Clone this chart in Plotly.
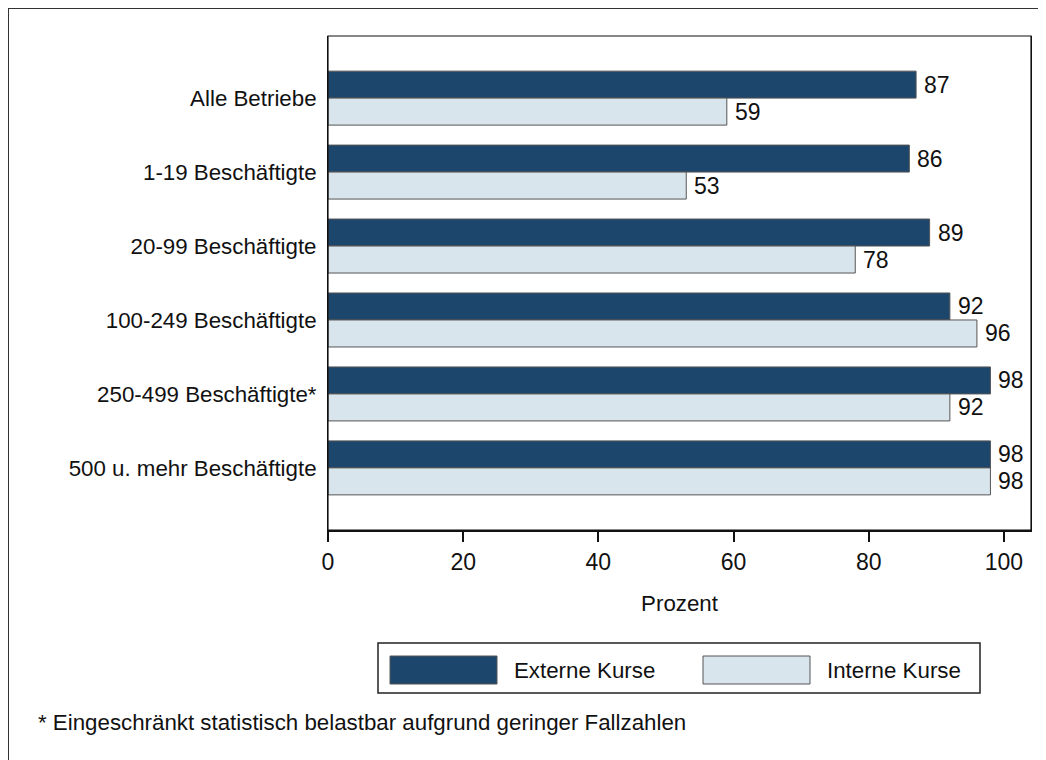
import plotly.graph_objects as go

categories = ["Alle Betriebe", "1-19 Beschäftigte", "20-99 Beschäftigte",
              "100-249 Beschäftigte", "250-499 Beschäftigte*", "500 u. mehr Beschäftigte"]
externe = [87, 86, 89, 92, 98, 98]
interne = [59, 53, 78, 96, 92, 98]
series_names = ["Externe Kurse", "Interne Kurse"]
x_ticks = [0, 20, 40, 60, 80, 100]
x_title = "Prozent"
footnote = "* Eingeschränkt statistisch belastbar aufgrund geringer Fallzahlen"

DARK = "#1d466d"
LIGHT = "#d9e5ec"
EDGE = "#555555"
FONT = "Liberation Sans, Arial, sans-serif"
FS = 22.3
FS_NUM = 23

W, H = 1046, 760
OFF = 8  # page body margin
L, R, T, B = 328 - OFF, 1031 - OFF, 36 - OFF, 530 - OFF

def px(xp):
    return (xp - OFF - L) / (R - L)

def py(yp):
    return (B - (yp - OFF)) / (B - T)

fig = go.Figure()
for name, vals, col in [(series_names[0], externe, DARK), (series_names[1], interne, LIGHT)]:
    fig.add_trace(go.Bar(
        y=categories, x=vals, orientation="h", name=name,
        marker=dict(color=col, line=dict(color=EDGE, width=1)),
        showlegend=False,
    ))

annotations = []
for vals, ysh in [(externe, 13.5), (interne, -13.5)]:
    for c, v in zip(categories, vals):
        annotations.append(dict(x=v, y=c, xref="x", yref="y", text=str(v), showarrow=False,
                                xanchor="left", yanchor="middle", xshift=6, yshift=ysh,
                                font=dict(size=FS_NUM, color="#111111", family=FONT)))

shapes = []
# outer frame (only top/left visible)
shapes.append(dict(type="rect", xref="paper", yref="paper",
                   x0=px(8), x1=px(1100), y0=py(820), y1=py(8),
                   line=dict(color="#333333", width=2), fillcolor="rgba(0,0,0,0)", layer="below"))
# legend box
shapes.append(dict(type="rect", xref="paper", yref="paper",
                   x0=px(378), x1=px(980), y0=py(693), y1=py(643),
                   line=dict(color="#222222", width=1.5), fillcolor="white"))
for i, (name, col) in enumerate(zip(series_names, [DARK, LIGHT])):
    sx = [390, 703][i]
    shapes.append(dict(type="rect", xref="paper", yref="paper",
                       x0=px(sx), x1=px(sx + 107), y0=py(684), y1=py(656),
                       line=dict(color=EDGE, width=1), fillcolor=col))
    annotations.append(dict(xref="paper", yref="paper", x=px(sx + 122), y=py(670),
                            text=name, showarrow=False, xanchor="left", yanchor="middle",
                            font=dict(size=FS, color="#111111", family=FONT)))
annotations.append(dict(xref="paper", yref="paper", x=px(36), y=py(722),
                        text=footnote, showarrow=False, xanchor="left", yanchor="middle",
                        font=dict(size=FS, color="#111111", family=FONT)))

fig.update_layout(
    width=W, height=H,
    margin=dict(l=L, r=W - R, t=T, b=H - B, pad=0),
    paper_bgcolor="white", plot_bgcolor="white",
    barmode="group", bargap=0.27, bargroupgap=0,
    font=dict(family=FONT, size=FS, color="#111111"),
    shapes=shapes, annotations=annotations,
    showlegend=False,
)
fig.update_xaxes(range=[0, 104], tickvals=x_ticks, ticks="outside", ticklen=10, tickwidth=1.5,
                 tickcolor="#111111", showgrid=False, zeroline=False,
                 showline=True, linecolor="#111111", linewidth=2, mirror=False,
                 tickfont=dict(size=FS_NUM), title=dict(text=x_title, font=dict(size=FS), standoff=22))
fig.update_yaxes(autorange=False, range=[5.84, -0.84], ticks="", showgrid=False,
                 showline=True, linecolor="#111111", linewidth=1, mirror=True,
                 tickfont=dict(size=FS), ticklabelstandoff=6)
# top/right frame
fig.add_shape(type="rect", xref="paper", yref="paper", x0=0, x1=1, y0=0, y1=1,
              line=dict(color="#111111", width=1.2))
fig.write_html("out.html")
